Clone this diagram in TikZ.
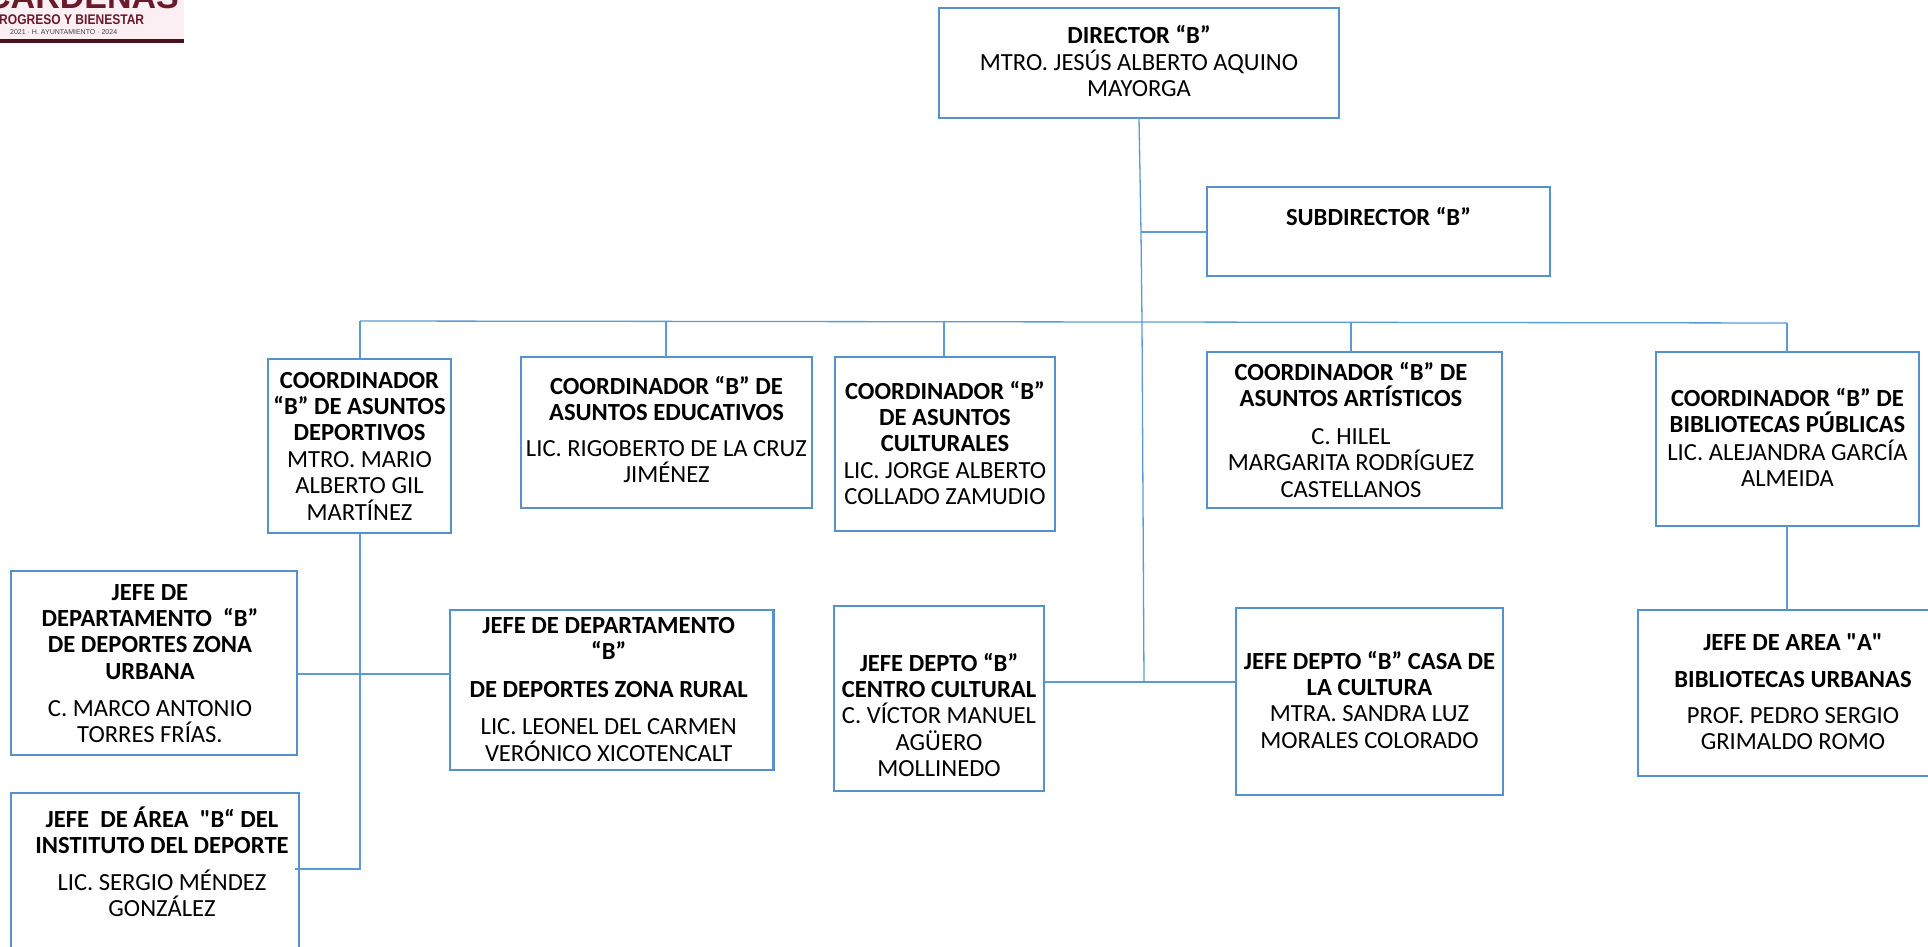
\documentclass[tikz,border=0pt]{standalone}
\usepackage{fontspec}
\setmainfont{Carlito}
\newfontfamily\orgfont{Carlito}
\newfontfamily\logofont{Liberation Sans}
\definecolor{orgblue}{HTML}{5591CC}
\definecolor{linkblue}{HTML}{5B9BD5}
\definecolor{logored}{HTML}{6B1A2A}
\definecolor{logopink}{HTML}{FBEFF3}
\newcommand{\tsh}{0pt}
\newcommand{\tl}[1]{\hbox to\linewidth{\hss\hskip\tsh\relax\vrule width0pt height21.4pt depth5pt\relax #1\hss}}
\newcommand{\tb}[1]{\tl{\bfseries #1}}
\newcommand{\orgbox}[7]{%
  \pgfmathsetmacro{\bw}{#4-#2}\pgfmathsetmacro{\bh}{#5-#3}%
  \pgfmathsetmacro{\bx}{(#2+#4)/2}\pgfmathsetmacro{\by}{(#3+#5)/2}%
  \node[orgnode] (#1) at (\bx,\by) {\parbox[c][\bh pt][t]{\bw pt}{\offinterlineskip\orgfont\fontsize{24.6}{26.4}\selectfont\vspace*{#6pt}#7}};}
\tikzset{
  orgnode/.style={draw=orgblue,line width=2.4pt,fill=white,inner sep=0pt,outer sep=0pt,rectangle},
  link/.style={draw=linkblue,line width=1.3pt},
  linkthick/.style={draw=linkblue,line width=1.8pt}
}
\begin{document}
\begin{tikzpicture}[x=1pt,y=-1pt]
\useasboundingbox (0,0) rectangle (1928,947);
% logo
\begin{scope}
\clip (0,0) rectangle (184,43);
\fill[logopink] (0,0) rectangle (184,39);
\fill[logored!70!black] (0,39) rectangle (184,43);
\node[anchor=base west,inner sep=0pt,text=logored,font=\logofont\bfseries\fontsize{34}{34}\selectfont] (logoa) at (-14,9) {CÁRDENAS};
\node[anchor=base west,inner sep=0pt,text=logored,font=\logofont\bfseries\fontsize{14}{14}\selectfont] (logob) at (-9,25) {\scalebox{0.86}[1]{PROGRESO Y BIENESTAR}};
\node[anchor=base west,inner sep=0pt,text=black!75,font=\logofont\fontsize{7}{7}\selectfont] (logoc) at (10,35) {2021 · H. AYUNTAMIENTO · 2024};
\end{scope}
% connector coordinates
\coordinate (tj) at (1144,682);
\coordinate (sj) at (1141,232);
\coordinate (barL) at (360,321);
\coordinate (barM) at (1142,322);
\coordinate (barR) at (1787,323);
\coordinate (jUR) at (360,674);
\coordinate (jA) at (360,869);
\coordinate (jAe) at (295,869);
\coordinate (je) at (666,321);
\coordinate (jc) at (944,321.5);
\coordinate (ja) at (1351,322.5);
% boxes
\orgbox{dir}{939}{8}{1339}{118}{14.6}{\tb{DIRECTOR “B”}\tl{MTRO. JESÚS ALBERTO AQUINO}\tl{MAYORGA}}
\orgbox{sub}{1207}{187}{1550}{276}{16.6}{\tb{SUBDIRECTOR “B”}}
\orgbox{dep}{268}{359}{451}{533}{7.6}{\tb{COORDINADOR}\tb{“B” DE ASUNTOS}\tb{DEPORTIVOS}\tl{MTRO. MARIO}\tl{ALBERTO GIL}\tl{MARTÍNEZ}}
\orgbox{edu}{521}{357}{812}{508}{15.6}{\tb{COORDINADOR “B” DE}\tb{ASUNTOS EDUCATIVOS}\vspace{9.6pt}\tl{LIC. RIGOBERTO DE LA CRUZ}\tl{JIMÉNEZ}}
\orgbox{cul}{835}{357}{1055}{531}{20.6}{\tb{COORDINADOR “B”}\tb{DE ASUNTOS}\tb{CULTURALES}\tl{LIC. JORGE ALBERTO}\tl{COLLADO ZAMUDIO}}
\orgbox{art}{1207}{352}{1502}{508}{6.6}{\renewcommand{\tsh}{-7pt}\tb{COORDINADOR “B” DE}\tb{ASUNTOS ARTÍSTICOS}\vspace{11.6pt}\tl{C. HILEL}\tl{MARGARITA RODRÍGUEZ}\tl{CASTELLANOS}}
\orgbox{bib}{1656}{352}{1919}{526}{32.6}{\tb{COORDINADOR “B” DE}\tb{BIBLIOTECAS PÚBLICAS}\vspace{1.6pt}\tl{LIC. ALEJANDRA GARCÍA}\tl{ALMEIDA}}
\orgbox{urb}{11}{571}{297}{755}{7.6}{\renewcommand{\tsh}{-8pt}\tb{JEFE DE}\tb{DEPARTAMENTO~ “B”}\tb{DE DEPORTES ZONA}\tb{URBANA}\vspace{10.6pt}\tl{C. MARCO ANTONIO}\tl{TORRES FRÍAS.}}
\orgbox{rur}{450}{610}{773.5}{770}{1.6}{\renewcommand{\tsh}{-6pt}\tb{JEFE DE DEPARTAMENTO}\tb{“B”}\vspace{11.6pt}\tb{DE DEPORTES ZONA RURAL}\vspace{11pt}\tl{LIC. LEONEL DEL CARMEN}\tl{VERÓNICO XICOTENCALT}}
\orgbox{ins}{11}{793}{299}{960}{12.6}{\renewcommand{\tsh}{14pt}\tb{JEFE~ DE ÁREA~ "B“ DEL}\tb{INSTITUTO DEL DEPORTE}\vspace{10.6pt}\tl{LIC. SERGIO MÉNDEZ}\tl{GONZÁLEZ}}
\orgbox{cen}{834}{606}{1044}{791}{43.6}{\tb{JEFE DEPTO “B”}\tb{CENTRO CULTURAL}\tl{C. VÍCTOR MANUEL}\tl{AGÜERO}\tl{MOLLINEDO}}
\orgbox{cas}{1236}{608}{1503}{795}{39.6}{\tb{JEFE DEPTO “B” CASA DE}\tb{LA CULTURA}\tl{MTRA. SANDRA LUZ}\tl{MORALES COLORADO}}
\orgbox{arb}{1638}{610}{1948}{776}{18.6}{\tb{JEFE DE AREA "A"}\vspace{10.6pt}\tb{BIBLIOTECAS URBANAS}\vspace{9.6pt}\tl{PROF. PEDRO SERGIO}\tl{GRIMALDO ROMO}}
% connectors
\draw[link] (dir.south) -- (sj) -- (barM) -- (tj);
\draw[link] (sj) -- (sub.west |- sj);
\draw[link] (barL) -- (barM) -- (barR);
\draw[linkthick] (barL) -- (dep.north -| barL);
\draw[link] (je) -- (edu.north -| je);
\draw[linkthick] (jc) -- (cul.north -| jc);
\draw[link] (ja) -- (art.north -| ja);
\draw[linkthick] (barR) -- (bib.north -| barR);
\draw[linkthick] (dep.south -| jA) -- (jA) -- (jAe);
\draw[link] (urb.east |- jUR) -- (rur.west |- jUR);
\draw[linkthick] (cen.east |- tj) -- (cas.west |- tj);
\draw[linkthick] (bib.south -| barR) -- (arb.north -| barR);
\end{tikzpicture}
\end{document}
